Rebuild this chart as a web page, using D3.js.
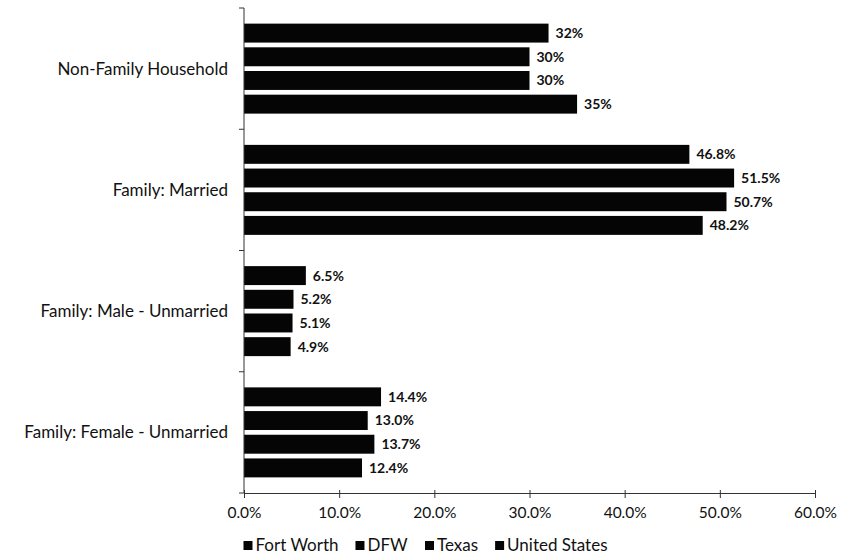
<!DOCTYPE html>
<html>
<head>
<meta charset="utf-8">
<script src="https://cdn.jsdelivr.net/npm/d3@7"></script>
<style>
  body { margin: 0; background: #fff; }
  svg { display: block; font-family: Lato, "Open Sans", sans-serif; }
</style>
</head>
<body>
<svg id="chart" width="851" height="556"></svg>
<script>
// Household types, top to bottom
const categories = ["Non-Family Household", "Family: Married", "Family: Male - Unmarried", "Family: Female - Unmarried"];
const seriesNames = ["Fort Worth", "DFW", "Texas", "United States"];
// Share of households (%) per series, in category order
const fortWorth    = [32, 46.8, 6.5, 14.4];
const dfw          = [30, 51.5, 5.2, 13.0];
const texas        = [30, 50.7, 5.1, 13.7];
const unitedStates = [35, 48.2, 4.9, 12.4];
const valueLabels = [
  ["32%", "46.8%", "6.5%", "14.4%"],
  ["30%", "51.5%", "5.2%", "13.0%"],
  ["30%", "50.7%", "5.1%", "13.7%"],
  ["35%", "48.2%", "4.9%", "12.4%"]
];
const xTicks = [0, 10, 20, 30, 40, 50, 60];

const seriesValues = [fortWorth, dfw, texas, unitedStates];
const rows = [];
categories.forEach((c, ci) => {
  seriesNames.forEach((s, si) => {
    rows.push({ category: c, series: s, value: seriesValues[si][ci], label: valueLabels[si][ci] });
  });
});

const svg = d3.select("#chart");
const margin = { left: 244, right: 36, top: 8, bottom: 63 };
const W = 851, H = 556;

const x = d3.scaleLinear().domain([0, 60]).range([margin.left, W - margin.right]);
const y = d3.scaleBand().domain(categories).range([margin.top, H - margin.bottom]).padding(0);
const ySub = d3.scaleBand().domain(seriesNames).range([0, y.bandwidth()])
  .paddingInner(0.2).paddingOuter(0.66);

// Bars
const g = svg.append("g");
g.selectAll("rect").data(rows).join("rect")
  .attr("x", x(0))
  .attr("y", d => y(d.category) + ySub(d.series))
  .attr("width", d => x(d.value) - x(0))
  .attr("height", ySub.bandwidth())
  .attr("fill", "#050505");

// Value labels
g.selectAll("text.val").data(rows).join("text")
  .attr("class", "val")
  .attr("x", d => x(d.value) + 7)
  .attr("y", d => y(d.category) + ySub(d.series) + ySub.bandwidth() / 2)
  .attr("dy", "0.35em")
  .attr("font-size", 14)
  .attr("font-weight", "bold")
  .attr("fill", "#111")
  .text(d => d.label);

// Category axis: vertical line with ticks at band boundaries
const yAxisG = svg.append("g");
yAxisG.append("line")
  .attr("x1", x(0)).attr("x2", x(0))
  .attr("y1", margin.top).attr("y2", H - margin.bottom)
  .attr("stroke", "#333").attr("stroke-width", 1);
const bounds = categories.map(c => y(c)).concat([H - margin.bottom]);
yAxisG.selectAll("line.tk").data(bounds).join("line")
  .attr("class", "tk")
  .attr("x1", x(0) - 5).attr("x2", x(0))
  .attr("y1", d => d).attr("y2", d => d)
  .attr("stroke", "#333");
yAxisG.selectAll("text").data(categories).join("text")
  .attr("x", x(0) - 16)
  .attr("y", d => y(d) + y.bandwidth() / 2)
  .attr("dy", "0.35em")
  .attr("text-anchor", "end")
  .attr("font-size", 17)
  .attr("fill", "#111")
  .text(d => d);

// Value axis
const xAxis = d3.axisBottom(x).tickValues(xTicks)
  .tickFormat(d => d.toFixed(1) + "%").tickSize(5).tickSizeOuter(0);
const xAxisG = svg.append("g")
  .attr("transform", `translate(0,${H - margin.bottom})`)
  .call(xAxis);
xAxisG.select(".domain").attr("stroke", "#333");
xAxisG.selectAll(".tick line").attr("stroke", "#333").attr("y1", -3);
xAxisG.selectAll(".tick text")
  .attr("font-family", "Lato, sans-serif")
  .attr("font-size", 15.5)
  .attr("fill", "#111")
  .attr("y", 13)
  .attr("dy", "0.75em");

// Legend
const legend = svg.append("g");
const items = legend.selectAll("g").data(seriesNames).join("g");
items.append("rect").attr("width", 9).attr("height", 9).attr("y", -10).attr("fill", "#050505");
items.append("text").attr("x", 12).attr("y", 0)
  .attr("font-size", 17).attr("fill", "#111").text(d => d);
let cx = 0;
const gap = 17;
items.each(function () {
  const w = this.getBBox().width;
  d3.select(this).attr("transform", `translate(${cx},0)`);
  cx += w + gap;
});
const totalW = cx - gap;
legend.attr("transform", `translate(${(W - totalW) / 2},551)`);
</script>
</body>
</html>
